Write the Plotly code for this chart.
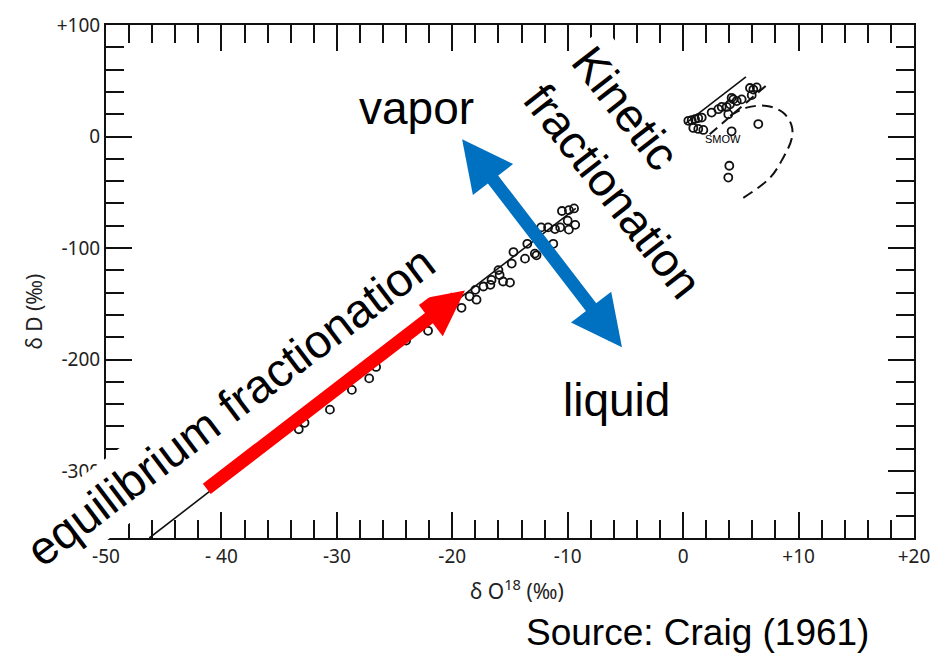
import plotly.graph_objects as go

# Craig (1961): delta-D versus delta-O18 of natural waters (per mil, SMOW)
# Rivers, lakes, rain and snow lying on the meteoric water line
meteoric_d18o = [-10.5, -9.9, -9.45, -10.0, -9.35, -10.65, -11.1, -11.7, -12.3, -9.9,
                 -11.25, -12.7, -13.7, -13.5, -14.7, -14.85, -15.9, -15.6, -15.0, -16.6,
                 -17.3, -16.7, -18.0, -17.9, -18.5, -16.0, -12.85, -19.2, -21.0, -22.1,
                 -24.0, -26.6, -27.2, -28.7, -30.6, -33.3, -32.8]
meteoric_dD = [-66.8, -66.0, -64.5, -75.5, -79.2, -81.5, -83.0, -81.5, -81.5, -83.5,
               -96.2, -106.5, -109.5, -96.2, -103.6, -113.9, -124.2, -130.0, -131.0, -128.6,
               -134.5, -133.0, -137.5, -146.3, -143.3, -119.8, -105.0, -153.6, -160.0, -174.2,
               -183.0, -206.6, -216.9, -227.2, -244.9, -262.5, -256.7]

# Ocean water and closed-basin (evaporating) waters near SMOW
surface_d18o = [0.45, 0.74, 1.03, 1.31, 1.61, 0.88, 1.31, 1.75, 2.47, 3.05, 3.34, 3.77,
                4.06, 4.35, 4.64, 5.07, 4.2, 5.79, 6.08, 6.37, 5.94, 3.91, 6.51, 4.2,
                4.0, 3.91]
surface_dD = [14.1, 14.7, 15.6, 16.5, 17.0, 7.7, 6.8, 5.9, 21.5, 24.5, 26.5, 26.5,
              28.9, 33.3, 31.8, 33.3, 34.7, 43.5, 42.1, 44.1, 37.1, 20.0, 11.2, 4.7,
              -26.2, -36.8]

# Meteoric water line (dD = 8 d18O + 10), drawn in two pieces
mwl_low_x = [-46.25, -9.3]
mwl_low_y = [-360.0, -64.4]
mwl_high_x = [0.16, 5.44]
mwl_high_y = [11.3, 53.5]

# Evaporation trend and envelope around the closed-basin waters
evap_trend_x = [2.3, 7.5]
evap_trend_y = [2.0, 48.5]
envelope_x = [4.06, 5.50, 7.24, 8.65, 9.40, 9.40, 8.65, 7.52, 5.21]
envelope_y = [18.5, 25.9, 27.4, 21.5, 9.7, -2.0, -19.4, -37.1, -55.0]

x_ticks = [-50, -40, -30, -20, -10, 0, 10, 20]
x_ticktext = ["-50", "- 40", "-30", "-20", "-10", "0", "+10", "+20"]
y_ticks = [-300, -200, -100, 0, 100]
y_ticktext = ["-300", "-200", "-100", "0", "+100"]

# Process arrows: (tail d18O, tail dD) -> (head d18O, head dD)
equilibrium_tail = (-41.4, -317.0)
equilibrium_head = (-18.9, -138.0)
vapor_end = (-19.25, -1.1)
liquid_end = (-5.3, -189.0)

INK = "#111111"

fig = go.Figure()

for xs, ys in [(mwl_low_x, mwl_low_y), (mwl_high_x, mwl_high_y)]:
    fig.add_trace(go.Scatter(x=xs, y=ys, mode="lines",
                             line=dict(color=INK, width=1.6), hoverinfo="skip"))

fig.add_trace(go.Scatter(x=evap_trend_x, y=evap_trend_y, mode="lines",
                         line=dict(color=INK, width=2, dash="10px,6px"), hoverinfo="skip"))
fig.add_trace(go.Scatter(x=envelope_x, y=envelope_y, mode="lines",
                         line=dict(color=INK, width=2, dash="11px,6px", shape="spline"),
                         hoverinfo="skip"))

marker = dict(symbol="circle-open", size=8, color=INK, line=dict(width=1.8, color=INK))
fig.add_trace(go.Scatter(x=meteoric_d18o, y=meteoric_dD, mode="markers", marker=marker))
fig.add_trace(go.Scatter(x=surface_d18o, y=surface_dD, mode="markers", marker=marker))

tickfont = dict(family="Noto Sans", size=19, color="#222222")
axis_style = dict(showline=True, linecolor=INK, linewidth=2, mirror="allticks",
                  ticks="inside", ticklen=26, tickwidth=2, tickcolor=INK,
                  showgrid=False, zeroline=False, tickfont=tickfont)

fig.update_xaxes(range=[-50, 20], tickvals=x_ticks, ticktext=x_ticktext,
                 minor=dict(dtick=2, tick0=0, ticks="inside", ticklen=18,
                            tickwidth=2, tickcolor=INK, showgrid=False),
                 **axis_style)
fig.update_yaxes(range=[-360, 100], tickvals=y_ticks, ticktext=y_ticktext,
                 minor=dict(dtick=20, tick0=0, ticks="inside", ticklen=18,
                            tickwidth=2, tickcolor=INK, showgrid=False),
                 **axis_style)

annotations = []

# arrows
annotations.append(dict(x=equilibrium_head[0], y=equilibrium_head[1],
                        ax=equilibrium_tail[0], ay=equilibrium_tail[1],
                        xref="x", yref="y", axref="x", ayref="y", text="",
                        showarrow=True, arrowhead=2, arrowsize=0.7, arrowwidth=13,
                        arrowcolor="#ff0000"))
annotations.append(dict(x=liquid_end[0], y=liquid_end[1],
                        ax=vapor_end[0], ay=vapor_end[1],
                        xref="x", yref="y", axref="x", ayref="y", text="",
                        showarrow=True, arrowside="end+start",
                        arrowhead=2, startarrowhead=2, arrowsize=0.78, startarrowsize=0.78,
                        arrowwidth=13, arrowcolor="#0070c0"))

big = dict(family="Liberation Sans, Arial, sans-serif", size=46, color="#000000")
rot = dict(family="Liberation Sans, Arial, sans-serif", size=47, color="#000000")
center = dict(xanchor="center", yanchor="middle", showarrow=False)

annotations.append(dict(x=-23.1, y=25.6, xref="x", yref="y", text="vapor",
                        font=big, **center))
annotations.append(dict(x=-5.8, y=-236.6, xref="x", yref="y", text="liquid",
                        font=big, **center))
annotations.append(dict(x=-4.0, y=-32.0, xref="x", yref="y",
                        text="Kinetic<br>fractionation", align="left",
                        textangle=52, font=rot,
                        bgcolor="#ffffff", borderpad=6, **center))
annotations.append(dict(x=-39.3, y=-241.9, xref="x", yref="y",
                        text="equilibrium fractionation",
                        textangle=-37, font=rot,
                        bgcolor="#ffffff", borderpad=6, **center))
annotations.append(dict(x=3.45, y=-1.8, xref="x", yref="y", text="SMOW",
                        font=dict(family="Liberation Sans Narrow, Liberation Sans", size=11,
                                  color="#000000"), **center))

# axis titles
axis_title_font = dict(family="Noto Sans", size=21, color="#222222")
annotations.append(dict(x=-0.0903, y=0.4415, xref="paper", yref="paper",
                        text="δ D (‰)", textangle=-90,
                        font=axis_title_font, **center))
annotations.append(dict(x=0.5087, y=-0.0998, xref="paper", yref="paper",
                        text="δ O<sup>18</sup> (‰)",
                        font=axis_title_font, **center))

annotations.append(dict(x=0.732, y=-0.184, xref="paper", yref="paper",
                        text="Source: Craig (1961)",
                        font=dict(family="Liberation Sans, Arial, sans-serif", size=37,
                                  color="#000000"), **center))

fig.update_layout(width=945, height=656, autosize=False,
                  margin=dict(l=106, r=31, t=17, b=118),
                  paper_bgcolor="#ffffff", plot_bgcolor="#ffffff",
                  showlegend=False, annotations=annotations)

fig.write_html("out.html", config={"displayModeBar": False})
